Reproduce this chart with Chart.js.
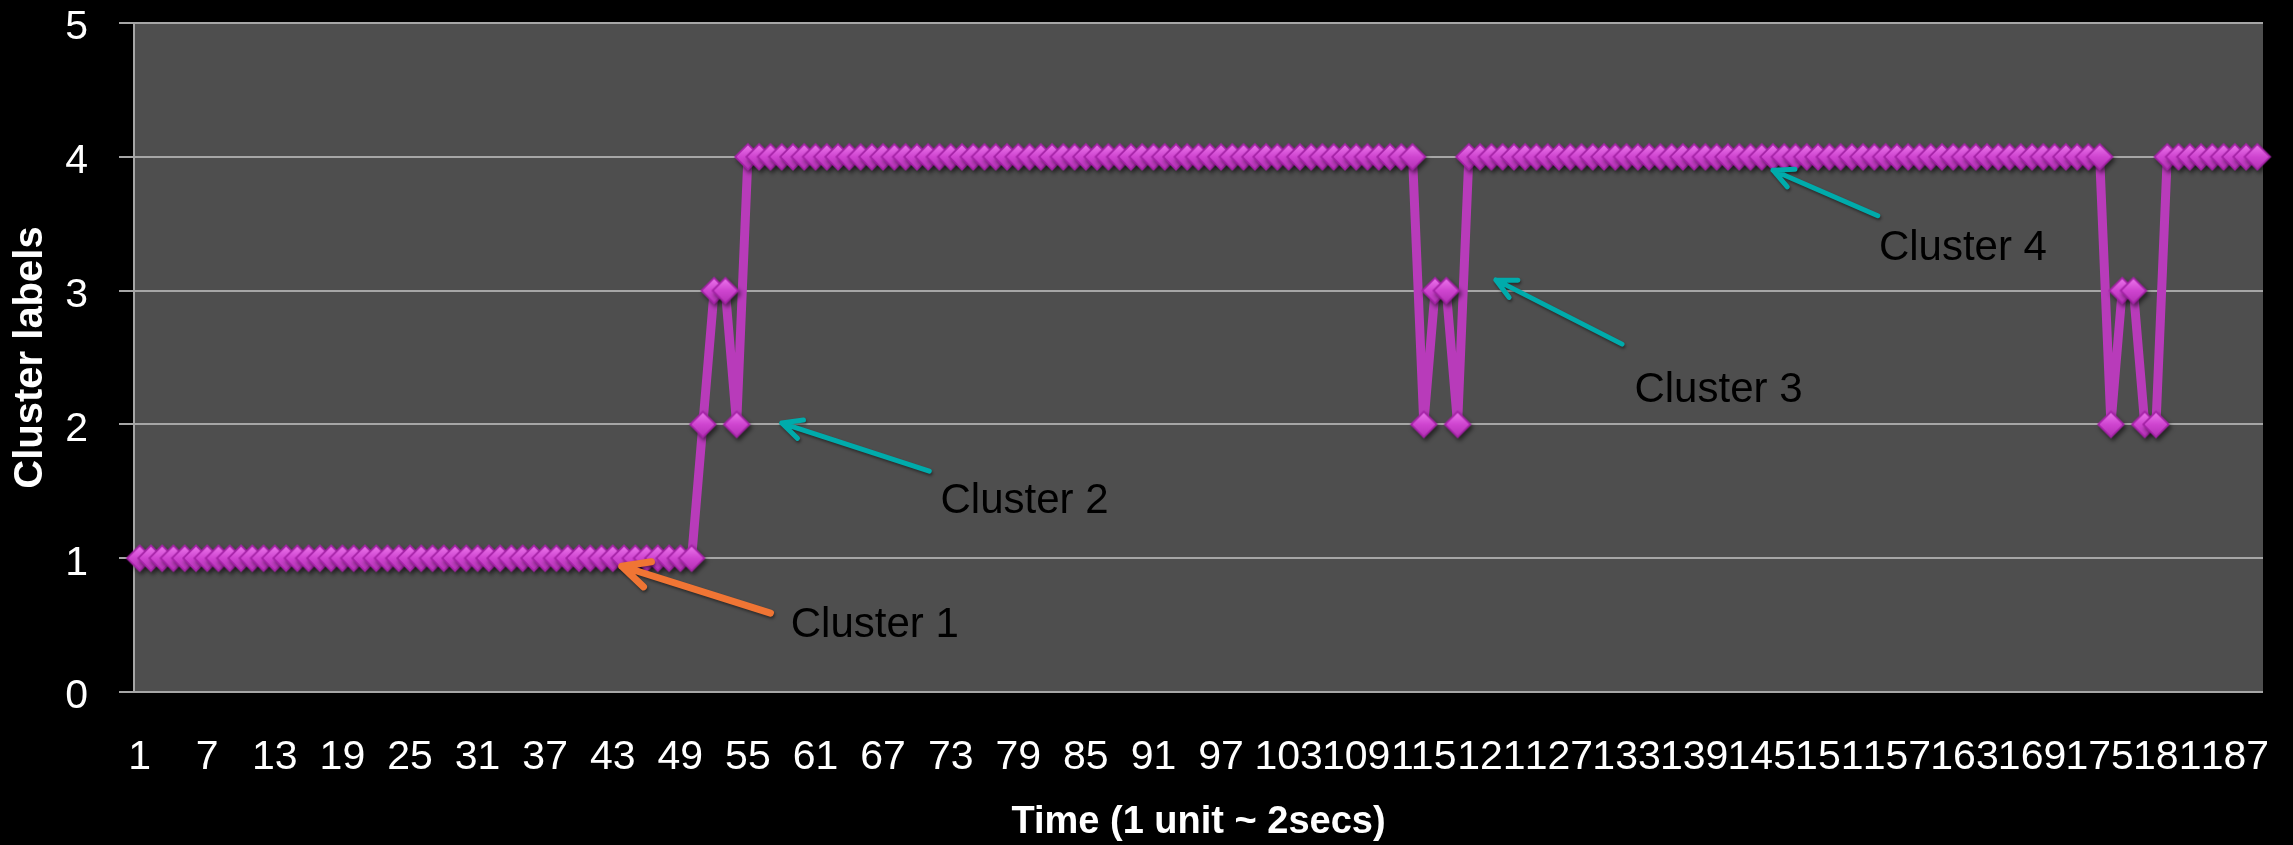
<!DOCTYPE html>
<html>
<head>
<meta charset="utf-8">
<title>Cluster labels over time</title>
<script src="https://cdn.jsdelivr.net/npm/chart.js@4.4.1/dist/chart.umd.min.js"></script>
<style>
  html, body { margin: 0; padding: 0; background: #000; }
  #wrap { width: 2293px; height: 845px; }
</style>
</head>
<body>
<div id="wrap"><canvas id="clusterChart"></canvas></div>
<script>
// cluster label at each time step (10 per row)
const clusterLabels = [
    1, 1, 1, 1, 1, 1, 1, 1, 1, 1,
    1, 1, 1, 1, 1, 1, 1, 1, 1, 1,
    1, 1, 1, 1, 1, 1, 1, 1, 1, 1,
    1, 1, 1, 1, 1, 1, 1, 1, 1, 1,
    1, 1, 1, 1, 1, 1, 1, 1, 1, 1,
    2, 3, 3, 2, 4, 4, 4, 4, 4, 4,
    4, 4, 4, 4, 4, 4, 4, 4, 4, 4,
    4, 4, 4, 4, 4, 4, 4, 4, 4, 4,
    4, 4, 4, 4, 4, 4, 4, 4, 4, 4,
    4, 4, 4, 4, 4, 4, 4, 4, 4, 4,
    4, 4, 4, 4, 4, 4, 4, 4, 4, 4,
    4, 4, 4, 4, 2, 3, 3, 2, 4, 4,
    4, 4, 4, 4, 4, 4, 4, 4, 4, 4,
    4, 4, 4, 4, 4, 4, 4, 4, 4, 4,
    4, 4, 4, 4, 4, 4, 4, 4, 4, 4,
    4, 4, 4, 4, 4, 4, 4, 4, 4, 4,
    4, 4, 4, 4, 4, 4, 4, 4, 4, 4,
    4, 4, 4, 4, 4, 2, 3, 3, 2, 2,
    4, 4, 4, 4, 4, 4, 4, 4, 4
];

// time step numbers 1..N
const timeSteps = clusterLabels.map((_, i) => String(i + 1));

// labels actually printed under the axis
const shownTicks = ['1', '7', '13', '19', '25', '31', '37', '43', '49', '55', '61', '67', '73', '79', '85', '91',
    '97', '103', '109', '115', '121', '127', '133', '139', '145', '151', '157', '163', '169', '175', '181', '187'];

const yMin = 0;
const yMax = 5;

// callouts, in [category index, value] units
const noteText = ['Cluster 1', 'Cluster 2', 'Cluster 3', 'Cluster 4'];
const noteHead = [[42.8, 0.94], [57.0, 2.01], [120.4, 3.08], [145.0, 3.90]];
const noteTail = [[56.0, 0.59], [70.1, 1.65], [131.6, 2.60], [154.3, 3.56]];
const noteAt   = [[57.8, 0.41], [71.1, 1.34], [132.7, 2.17], [154.4, 3.23]];

const FONT = "'Liberation Sans', Arial, sans-serif";

// diamond marker with a bit of bevel + drop shadow
function makeDiamond(r) {
    const s = 2 * r + 14;
    const c = document.createElement('canvas');
    c.width = s;
    c.height = s;
    const g = c.getContext('2d');
    const cx = s / 2, cy = s / 2;

    const path = (rr) => {
        g.beginPath();
        g.moveTo(cx, cy - rr);
        g.lineTo(cx + rr, cy);
        g.lineTo(cx, cy + rr);
        g.lineTo(cx - rr, cy);
        g.closePath();
    };

    g.shadowColor = 'rgba(0,0,0,0.55)';
    g.shadowBlur = 4;
    g.shadowOffsetX = 2;
    g.shadowOffsetY = 3;
    path(r);
    g.fillStyle = '#a422a6';
    g.fill();

    g.shadowColor = 'transparent';
    const grad = g.createLinearGradient(cx, cy - r, cx, cy + r);
    grad.addColorStop(0, '#f07cf0');
    grad.addColorStop(0.5, '#cf45d0');
    grad.addColorStop(1, '#b02fb2');
    path(r - 2.5);
    g.fillStyle = grad;
    g.fill();
    return c;
}

const diamond = makeDiamond(14);

// grey plot area behind the series
const plotBackground = {
    id: 'plotBackground',
    beforeDraw(chart) {
        const { ctx, chartArea } = chart;
        ctx.save();
        ctx.fillStyle = '#4e4e4e';
        ctx.fillRect(chartArea.left, chartArea.top, chartArea.right - chartArea.left, chartArea.bottom - chartArea.top);
        ctx.restore();
    }
};

// arrows + "Cluster n" texts
const callouts = {
    id: 'callouts',
    afterDatasetsDraw(chart) {
        const { ctx, scales: { x, y } } = chart;
        ctx.save();
        for (let i = 0; i < noteText.length; i++) {
            const hx = x.getPixelForValue(noteHead[i][0]);
            const hy = y.getPixelForValue(noteHead[i][1]);
            const tx = x.getPixelForValue(noteTail[i][0]);
            const ty = y.getPixelForValue(noteTail[i][1]);
            const first = i === 0;
            const lw = first ? 7 : 5;
            const barb = first ? 30 : 22;
            const ang = Math.atan2(ty - hy, tx - hx);
            const spread = 26 * Math.PI / 180;

            ctx.strokeStyle = first ? '#f07534' : '#00abab';
            ctx.lineWidth = lw;
            ctx.lineCap = 'round';
            ctx.lineJoin = 'round';
            ctx.shadowColor = 'rgba(0,0,0,0.45)';
            ctx.shadowBlur = 3;
            ctx.shadowOffsetX = 1;
            ctx.shadowOffsetY = 2;
            ctx.beginPath();
            ctx.moveTo(tx, ty);
            ctx.lineTo(hx, hy);
            ctx.moveTo(hx + barb * Math.cos(ang - spread), hy + barb * Math.sin(ang - spread));
            ctx.lineTo(hx, hy);
            ctx.lineTo(hx + barb * Math.cos(ang + spread), hy + barb * Math.sin(ang + spread));
            ctx.stroke();

            ctx.shadowColor = 'transparent';
            ctx.fillStyle = '#000';
            ctx.font = '42px ' + FONT;
            ctx.textAlign = 'left';
            ctx.textBaseline = 'alphabetic';
            ctx.fillText(noteText[i], x.getPixelForValue(noteAt[i][0]), y.getPixelForValue(noteAt[i][1]));
        }
        ctx.restore();
    }
};

new Chart(document.getElementById('clusterChart').getContext('2d'), {
    type: 'line',
    data: {
        labels: timeSteps,
        datasets: [{
            data: clusterLabels,
            borderColor: '#b83bba',
            borderWidth: 9,
            tension: 0,
            clip: false,
            pointStyle: diamond,
            pointRadius: 14,
            pointHoverRadius: 14
        }]
    },
    options: {
        responsive: true,
        maintainAspectRatio: false,
        animation: false,
        layout: { padding: { top: 19, right: 30, left: 0, bottom: 0 } },
        plugins: {
            legend: { display: false },
            tooltip: { enabled: false }
        },
        scales: {
            x: {
                type: 'category',
                offset: true,
                grid: { display: false, drawTicks: false },
                border: { display: false },
                ticks: {
                    autoSkip: false,
                    maxRotation: 0,
                    minRotation: 0,
                    padding: 41,
                    color: '#fff',
                    font: { family: FONT, size: 41 },
                    callback: function (value, index) {
                        const lab = timeSteps[index];
                        return shownTicks.includes(lab) ? lab : '';
                    }
                },
                title: {
                    display: true,
                    text: 'Time (1 unit ~ 2secs)',
                    color: '#fff',
                    font: { family: FONT, size: 38, weight: 'bold', lineHeight: 1 },
                    padding: { top: 0, bottom: 3 }
                },
                afterFit(scale) {
                    scale.height = 153;
                    scale.paddingRight = 0;
                    scale.paddingLeft = 0;
                }
            },
            y: {
                min: yMin,
                max: yMax,
                grid: { color: '#a6a6a6', lineWidth: 2, tickLength: 15 },
                border: { display: true, color: '#a6a6a6', width: 2 },
                ticks: {
                    stepSize: 1,
                    padding: 31,
                    labelOffset: 5,
                    color: '#fff',
                    font: { family: FONT, size: 41 }
                },
                title: {
                    display: true,
                    text: 'Cluster labels',
                    color: '#fff',
                    font: { family: FONT, size: 40, weight: 'bold' },
                    padding: { top: 7, bottom: 0 }
                },
                afterFit(scale) {
                    scale.width = 134;
                    // keep the label overhang from shrinking the plot area
                    scale.paddingTop = 0;
                    scale.paddingBottom = 0;
                }
            }
        }
    },
    plugins: [plotBackground, callouts]
});
</script>
</body>
</html>
